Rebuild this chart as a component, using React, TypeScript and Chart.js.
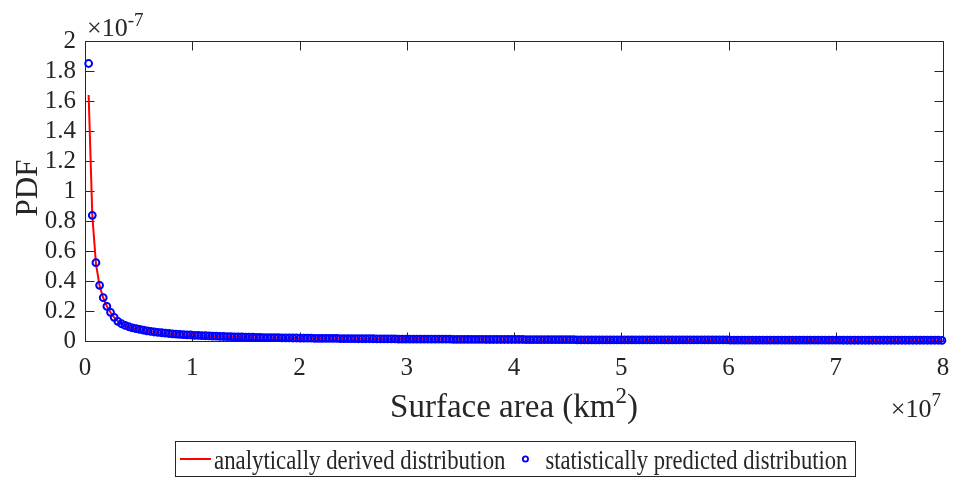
import React, { useEffect, useRef } from 'react';
import { Chart, registerables } from 'chart.js';

Chart.register(...registerables);

// ---- data (x in units of 1e7 km^2, PDF in units of 1e-7) ----
const AREA_STEP = 0.034; // spacing of the sampled surface areas (x 1e7 km^2)

const xTickValues = [0, 1, 2, 3, 4, 5, 6, 7, 8];
const yTickValues = [0, 0.2, 0.4, 0.6, 0.8, 1, 1.2, 1.4, 1.6, 1.8, 2];

const statisticalHead = [1.85, 0.838, 0.522, 0.371, 0.289, 0.231, 0.191, 0.158, 0.131];
const analyticalHead = [1.64, 0.84, 0.516, 0.368, 0.287, 0.232, 0.19, 0.157, 0.132];
const sharedTail = [
  0.115, 0.104, 0.095, 0.088, 0.082, 0.077, 0.072, 0.068, 0.064, 0.060,
  0.057, 0.055, 0.052, 0.050, 0.048, 0.046, 0.044, 0.043, 0.041, 0.040,
  0.038, 0.037, 0.036, 0.035, 0.034, 0.033, 0.032, 0.031, 0.030, 0.029,
  0.029, 0.028, 0.027, 0.027, 0.026, 0.026, 0.025, 0.024, 0.024, 0.023, 0.023,
  0.023, 0.022, 0.022, 0.021, 0.021, 0.021, 0.020, 0.020, 0.019, 0.019,
  0.019, 0.019, 0.018, 0.018, 0.018, 0.017, 0.017, 0.017, 0.017, 0.016,
  0.016, 0.016, 0.016, 0.016, 0.015, 0.015, 0.015, 0.015, 0.015, 0.014,
  0.014, 0.014, 0.014, 0.014, 0.014, 0.013, 0.013, 0.013, 0.013, 0.013,
  0.013, 0.013, 0.012, 0.012, 0.012, 0.012, 0.012, 0.012, 0.012, 0.012,
  0.011, 0.011, 0.011, 0.011, 0.011, 0.011, 0.011, 0.011, 0.011, 0.010,
  0.010, 0.010, 0.010, 0.010, 0.010, 0.010, 0.010, 0.010, 0.010, 0.010,
  0.009, 0.009, 0.009, 0.009, 0.009, 0.009, 0.009, 0.009, 0.009, 0.009,
  0.009, 0.009, 0.009, 0.009, 0.008, 0.008, 0.008, 0.008, 0.008, 0.008,
  0.008, 0.008, 0.008, 0.008, 0.008, 0.008, 0.008, 0.008, 0.008, 0.008,
  0.008, 0.008, 0.008, 0.007, 0.007, 0.007, 0.007, 0.007, 0.007, 0.007,
  0.007, 0.007, 0.007, 0.007, 0.007, 0.007, 0.007, 0.007, 0.007, 0.007,
  0.007, 0.007, 0.007, 0.007, 0.007, 0.007, 0.006, 0.006, 0.006, 0.006,
  0.006, 0.006, 0.006, 0.006, 0.006, 0.006, 0.006, 0.006, 0.006, 0.006,
  0.006, 0.006, 0.006, 0.006, 0.006, 0.006, 0.006, 0.006, 0.006, 0.006,
  0.006, 0.006, 0.006, 0.006, 0.006, 0.006, 0.006, 0.005, 0.005, 0.005,
  0.005, 0.005, 0.005, 0.005, 0.005, 0.005, 0.005, 0.005, 0.005, 0.005,
  0.005, 0.005, 0.005, 0.005, 0.005, 0.005, 0.005, 0.005, 0.005, 0.005,
  0.005, 0.005, 0.005, 0.005, 0.004,
];

const statisticalPdf = [...statisticalHead, ...sharedTail];
const analyticalPdf = [...analyticalHead, ...sharedTail];

const legendLabels = ['analytically derived distribution', 'statistically predicted distribution'];

// ---- styles ----
const FONT = '"Liberation Serif", "Times New Roman", Times, serif';
const AXIS_COLOR = '#262626';
const RED = '#ff0000';
const BLUE = '#0000ff';

const toPoints = (ys: number[]) => ys.map((y, i) => ({ x: (i + 1) * AREA_STEP, y }));

function drawWithSup(
  ctx: CanvasRenderingContext2D,
  x: number,
  y: number,
  parts: { text: string; size: number; raise: number }[],
  align: 'left' | 'center' | 'right'
) {
  const widths = parts.map((p) => {
    ctx.font = `${p.size}px ${FONT}`;
    return ctx.measureText(p.text).width;
  });
  const total = widths.reduce((a, b) => a + b, 0);
  let cx = align === 'left' ? x : align === 'center' ? x - total / 2 : x - total;
  ctx.textAlign = 'left';
  ctx.textBaseline = 'alphabetic';
  parts.forEach((p, i) => {
    ctx.font = `${p.size}px ${FONT}`;
    ctx.fillText(p.text, cx, y - p.raise);
    cx += widths[i];
  });
}

// draws text horizontally condensed (legend glyphs are tall and narrow)
function drawCondensed(ctx: CanvasRenderingContext2D, text: string, x: number, y: number, size: number, sx: number) {
  ctx.save();
  ctx.font = `${size}px ${FONT}`;
  ctx.textAlign = 'left';
  ctx.textBaseline = 'alphabetic';
  ctx.translate(x, y);
  ctx.scale(sx, 1);
  ctx.fillText(text, 0, 0);
  const w = ctx.measureText(text).width * sx;
  ctx.restore();
  return w;
}

const matlabPlugin = {
  id: 'matlabFrame',
  beforeDatasetsDraw(chart: any) {
    const { ctx, chartArea: a, scales } = chart;
    const L = Math.round(a.left) + 0.5;
    const R = Math.round(a.right) + 0.5;
    const T = Math.round(a.top) + 0.5;
    const B = Math.round(a.bottom) + 0.5;
    const tl = 9;
    ctx.save();
    ctx.strokeStyle = AXIS_COLOR;
    ctx.lineWidth = 1;
    ctx.beginPath();
    ctx.rect(L, T, R - L, B - T);
    scales.x.ticks.forEach((t: any) => {
      const px = Math.round(scales.x.getPixelForValue(t.value)) + 0.5;
      ctx.moveTo(px, B);
      ctx.lineTo(px, B - tl);
      ctx.moveTo(px, T);
      ctx.lineTo(px, T + tl);
    });
    scales.y.ticks.forEach((t: any) => {
      const py = Math.round(scales.y.getPixelForValue(t.value)) + 0.5;
      ctx.moveTo(L, py);
      ctx.lineTo(L + tl, py);
      ctx.moveTo(R, py);
      ctx.lineTo(R - tl, py);
    });
    ctx.stroke();
    ctx.restore();
  },
  afterDraw(chart: any) {
    const { ctx, chartArea: a } = chart;
    ctx.save();
    ctx.fillStyle = AXIS_COLOR;

    // y exponent
    drawWithSup(ctx, a.left + 2, 36, [
      { text: '\u00d710', size: 26, raise: 0 },
      { text: '-7', size: 19, raise: 10 },
    ], 'left');

    // x exponent
    drawWithSup(ctx, a.right - 2, 417, [
      { text: '\u00d710', size: 26, raise: 0 },
      { text: '7', size: 19, raise: 11 },
    ], 'right');

    // x title
    drawWithSup(ctx, (a.left + a.right) / 2, 417, [
      { text: 'Surface area (km', size: 33, raise: 0 },
      { text: '2', size: 23, raise: 14 },
      { text: ')', size: 33, raise: 0 },
    ], 'center');

    // y title
    ctx.save();
    ctx.translate(37, (a.top + a.bottom) / 2 - 3);
    ctx.rotate(-Math.PI / 2);
    ctx.font = `31px ${FONT}`;
    ctx.textAlign = 'center';
    ctx.textBaseline = 'alphabetic';
    ctx.fillText('PDF', 0, 0);
    ctx.restore();

    // legend
    const bx = 175.5, by = 441.5, bw = 680, bh = 35;
    ctx.fillStyle = '#ffffff';
    ctx.fillRect(bx, by, bw, bh);
    ctx.strokeStyle = AXIS_COLOR;
    ctx.lineWidth = 1;
    ctx.strokeRect(bx, by, bw, bh);
    const ly = 459;
    ctx.strokeStyle = RED;
    ctx.lineWidth = 2;
    ctx.beginPath();
    ctx.moveTo(180, ly);
    ctx.lineTo(211, ly);
    ctx.stroke();
    ctx.fillStyle = AXIS_COLOR;
    const w1 = drawCondensed(ctx, legendLabels[0], 214, 469, 27, 0.845);
    const cx = 214 + w1 + 20;
    ctx.strokeStyle = BLUE;
    ctx.lineWidth = 1.8;
    ctx.beginPath();
    ctx.arc(cx, ly, 2.6, 0, Math.PI * 2);
    ctx.stroke();
    ctx.fillStyle = AXIS_COLOR;
    drawCondensed(ctx, legendLabels[1], cx + 20, 469, 27, 0.835);
    ctx.restore();
  },
};

export default function App() {
  const canvasRef = useRef<HTMLCanvasElement>(null);

  useEffect(() => {
    const canvas = canvasRef.current;
    if (!canvas) return;
    const tickFont = { family: FONT, size: 25 };
    const chart = new Chart(canvas, {
      type: 'scatter',
      data: {
        datasets: [
          {
            label: legendLabels[1],
            data: toPoints(statisticalPdf),
            showLine: false,
            borderColor: BLUE,
            backgroundColor: 'rgba(0,0,0,0)',
            pointRadius: 3.4,
            pointBorderWidth: 2,
            pointHoverRadius: 3.4,
            clip: false,
            order: 1,
          } as any,
          {
            label: legendLabels[0],
            data: toPoints(analyticalPdf),
            showLine: true,
            borderColor: RED,
            borderWidth: 2,
            pointRadius: 0,
            pointHoverRadius: 0,
            fill: false,
            order: 2,
          } as any,
        ],
      },
      options: {
        responsive: false,
        animation: false,
        events: [],
        layout: { padding: { top: 41, right: 10, left: 0, bottom: 0 } },
        plugins: { legend: { display: false }, tooltip: { enabled: false } },
        scales: {
          x: {
            type: 'linear',
            min: 0,
            max: 8,
            afterBuildTicks: (scale: any) => {
              scale.ticks = xTickValues.map((v) => ({ value: v }));
            },
            afterFit: (scale: any) => {
              scale.height = 139;
              scale.paddingLeft = 0;
              scale.paddingRight = 0;
            },
            grid: { display: false, drawTicks: false },
            border: { display: false },
            ticks: {
              font: tickFont,
              color: AXIS_COLOR,
              padding: 12,
              maxRotation: 0,
              autoSkip: false,
              callback: (v: any) => String(Number(v)),
            },
          },
          y: {
            type: 'linear',
            min: 0,
            max: 2,
            afterBuildTicks: (scale: any) => {
              scale.ticks = yTickValues.map((v) => ({ value: v }));
            },
            afterFit: (scale: any) => {
              scale.width = 85;
              scale.paddingTop = 0;
              scale.paddingBottom = 0;
            },
            grid: { display: false, drawTicks: false },
            border: { display: false },
            ticks: {
              font: tickFont,
              color: AXIS_COLOR,
              padding: 9,
              autoSkip: false,
              callback: (v: any) => String(Number(Number(v).toFixed(1))),
            },
          },
        },
      } as any,
      plugins: [matlabPlugin as any],
    });
    return () => chart.destroy();
  }, []);

  return (
    <div style={{ position: 'fixed', left: 0, top: 0, width: 953, height: 480, background: '#ffffff' }}>
      <canvas ref={canvasRef} width={953} height={480} style={{ display: 'block' }} />
    </div>
  );
}
